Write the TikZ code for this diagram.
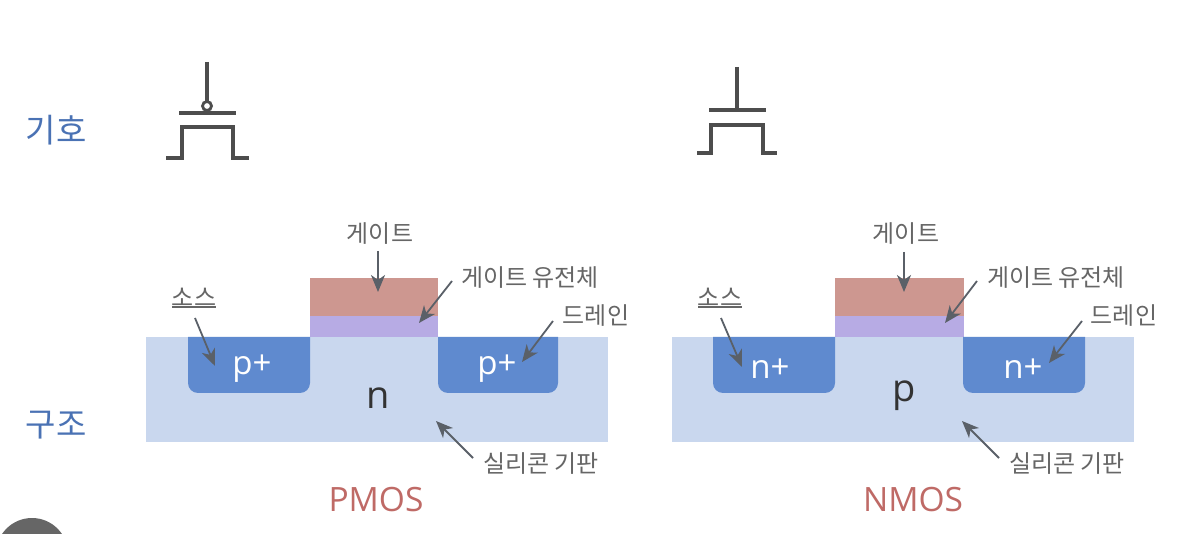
\documentclass[tikz,border=0pt]{standalone}
\usepackage{fontspec}
\setmainfont{Noto Sans CJK KR}
\newfontfamily\latinf{Open Sans}
\usetikzlibrary{arrows.meta}
\definecolor{subst}{HTML}{C9D7EE}
\definecolor{well}{HTML}{5F8ACF}
\definecolor{gatec}{HTML}{CD9790}
\definecolor{diel}{HTML}{B7ABE4}
\definecolor{headblue}{HTML}{4A72B4}
\definecolor{pinkt}{HTML}{BF6A66}
\definecolor{graytxt}{HTML}{666666}
\definecolor{symb}{HTML}{4D4D4D}
\definecolor{arrowc}{HTML}{5A6068}
\tikzset{
  x=1pt,y=-1pt,
  lbl/.style={font=\fontsize{24}{24}\selectfont,text=graytxt,inner sep=0pt,anchor=center},
  head/.style={font=\fontsize{33}{33}\selectfont,text=headblue,inner sep=0pt,anchor=center},
  mos/.style={font=\latinf\fontsize{33.5}{33.5}\selectfont,text=pinkt,inner sep=0pt,anchor=center},
  dop/.style={font=\latinf\fontsize{33}{33}\selectfont,text=white,inner sep=0pt,anchor=center},
  bulk/.style={font=\latinf\fontsize{38}{38}\selectfont,text=black!80,inner sep=0pt,anchor=center},
  ptr/.style={draw=arrowc,line width=1.8pt,-{Stealth[length=17pt,width=14pt,inset=5pt]}},
  uline/.style={draw=graytxt,line width=1.2pt},
  sym/.style={draw=symb,line width=3.8pt,line cap=butt,line join=miter},
}
\begin{document}
\begin{tikzpicture}
\useasboundingbox (0,0) rectangle (1192,534);
\fill[white] (0,0) rectangle (1192,534);
% corner disc
\begin{scope}
\clip (0,0) rectangle (1192,534);
\fill[black!60] (32,554) circle (36);
\end{scope}
\node[head] (hsym) at (56,130) {기호};
\node[head] (hstr) at (56,425) {구조};
% PMOS symbol
\draw[sym] (207,62) -- (207,102);
\draw[sym,line width=2.8pt,fill=white] (207,106) circle (4.5);
\draw[sym] (179,113) -- (236,113);
\draw[sym] (166,158) -- (182,158) -- (182,127) -- (233,127) -- (233,158) -- (249,158);
% NMOS symbol
\draw[sym] (737,67) -- (737,110);
\draw[sym] (709,110) -- (766,110);
\draw[sym] (697,153) -- (711,153) -- (711,125) -- (763,125) -- (763,153) -- (777,153);
% PMOS structure
\fill[subst] (146,337) rectangle (608,442);
\fill[gatec] (310,278) rectangle (438,316);
\fill[diel] (310,316) rectangle (438,337);
\fill[well] (188,337) [rounded corners=10] -- (188,393) -- (310,393) [sharp corners] -- (310,337) -- cycle;
\fill[well] (438,337) [rounded corners=10] -- (438,393) -- (558,393) [sharp corners] -- (558,337) -- cycle;
\node[dop] (ps) at (252,369) {p+};
\node[dop] (pd) at (497,369) {p+};
\node[bulk] (pb) at (378,398) {n};
\node[mos] (pt) at (376,500) {PMOS};
% NMOS structure
\fill[subst] (672,337) rectangle (1134,442);
\fill[gatec] (835,278) rectangle (964,316);
\fill[diel] (835,316) rectangle (964,337);
\fill[well] (713,337) [rounded corners=10] -- (713,393) -- (835,393) [sharp corners] -- (835,337) -- cycle;
\fill[well] (963,337) [rounded corners=10] -- (963,393) -- (1085,393) [sharp corners] -- (1085,337) -- cycle;
\node[dop] (ns) at (770,369) {n+};
\node[dop] (nd) at (1023,369) {n+};
\node[bulk] (nb) at (904,396) {p};
\node[mos] (nt) at (913,500) {NMOS};
% PMOS labels
\node[lbl] (lg1) at (380,234) {게이트};
\node[lbl] (ld1) at (530,278) {게이트 유전체};
\node[lbl] (ls1) at (194,297) {소스};
\node[lbl] (lr1) at (596,316) {드레인};
\node[lbl] (lb1) at (541,464) {실리콘 기판};
% NMOS labels
\node[lbl] (lg2) at (906,234) {게이트};
\node[lbl] (ld2) at (1056,278) {게이트 유전체};
\node[lbl] (ls2) at (720,297) {소스};
\node[lbl] (lr2) at (1124,316) {드레인};
\node[lbl] (lb2) at (1067,464) {실리콘 기판};
% pointer ends
\coordinate (a1) at (378,251); \coordinate (a1t) at (378,292);
\coordinate (a2) at (452,281); \coordinate (a2t) at (419,323);
\coordinate (a3) at (195,318); \coordinate (a3t) at (215,366);
\coordinate (a4) at (553,321); \coordinate (a4t) at (522,362);
\coordinate (a5) at (473,458); \coordinate (a5t) at (436,421);
\coordinate (b1) at (904,252); \coordinate (b1t) at (904,292);
\coordinate (b2) at (977,281); \coordinate (b2t) at (945,323);
\coordinate (b3) at (721,318); \coordinate (b3t) at (742,367);
\coordinate (b4) at (1082,321); \coordinate (b4t) at (1049,363);
\coordinate (b5) at (999,458); \coordinate (b5t) at (962,421);
\foreach \p in {a1,a2,a3,a4,a5,b1,b2,b3,b4,b5} {\draw[ptr] (\p) -- (\p t);}
% underlines
\coordinate (u1a) at (172,307); \coordinate (u1b) at (216,307);
\coordinate (u2a) at (698,307); \coordinate (u2b) at (742,307);
\draw[uline] (u1a) -- (u1b);
\draw[uline] (u2a) -- (u2b);
\end{tikzpicture}
\end{document}
